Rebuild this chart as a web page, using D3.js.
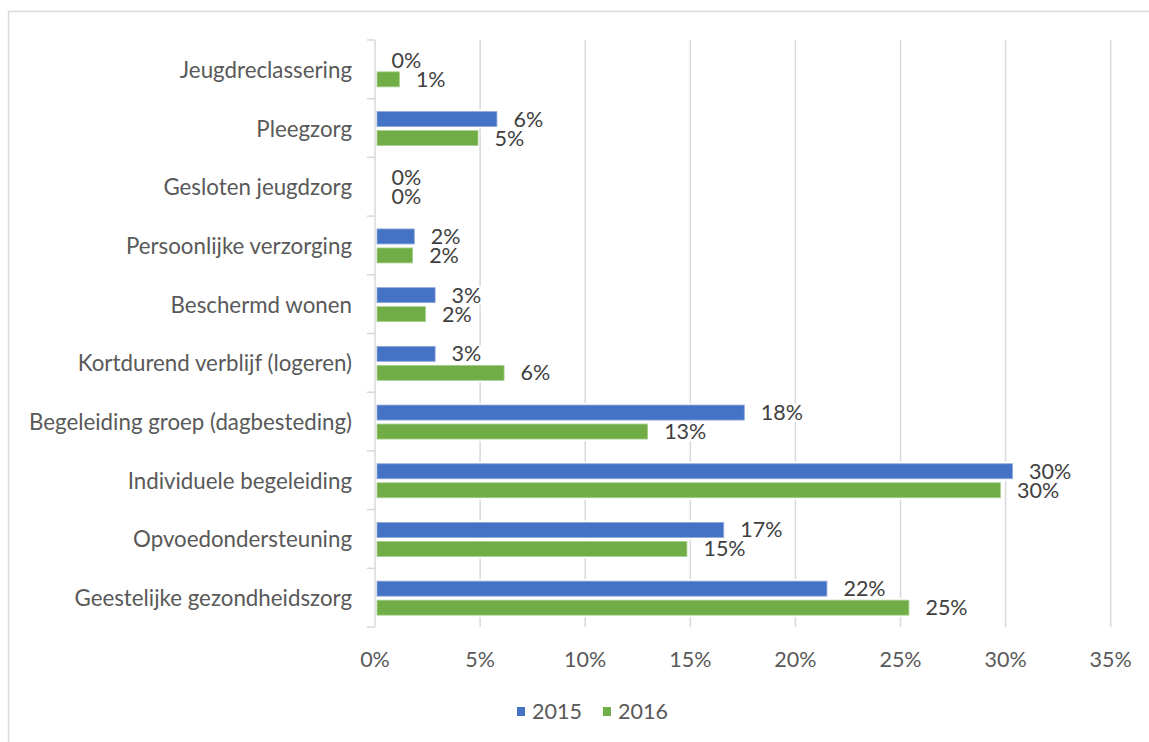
<!DOCTYPE html>
<html>
<head>
<meta charset="utf-8">
<script src="https://cdn.jsdelivr.net/npm/d3@7"></script>
<style>
  body { margin: 0; background: #fff; }
  svg { display: block; font-family: Lato, "Open Sans", sans-serif; }
</style>
</head>
<body>
<div id="plot-container"></div>
<script>
'use strict';
const categories = [
  "Jeugdreclassering",
  "Pleegzorg",
  "Gesloten jeugdzorg",
  "Persoonlijke verzorging",
  "Beschermd wonen",
  "Kortdurend verblijf (logeren)",
  "Begeleiding groep (dagbesteding)",
  "Individuele begeleiding",
  "Opvoedondersteuning",
  "Geestelijke gezondheidszorg"
];
const seriesNames = ["2015", "2016"];
const values2015 = [0, 0.058, 0, 0.0187, 0.0286, 0.0286, 0.1757, 0.3033, 0.1659, 0.215];
const values2016 = [0.0116, 0.049, 0, 0.0179, 0.024, 0.0614, 0.1297, 0.2976, 0.1484, 0.254];
const xTicks = [0, 0.05, 0.1, 0.15, 0.2, 0.25, 0.3, 0.35];
const colors = {"2015": "#4472C4", "2016": "#70AD47"};
const strokes = {"2015": "#8EA9DB", "2016": "#A9D08E"};

(function () {
  const width = 1149, height = 742;
  const svg = d3.select("#plot-container").append("svg")
    .attr("width", width).attr("height", height);

  // outer chart frame runs past the picture on the right and bottom
  svg.append("rect")
    .attr("x", 8.5).attr("y", 11.5).attr("width", 1300).attr("height", 900)
    .attr("fill", "none").attr("stroke", "#d9d9d9").attr("stroke-width", 1.5);

  const x = d3.scaleLinear().domain([0, 0.35]).range([375, 1110.7]);
  const y = d3.scaleBand().domain(categories).range([40, 627]).paddingInner(0).paddingOuter(0);
  const bw = y.bandwidth();
  const inner = d3.scaleBand().domain(seriesNames)
    .range([bw / 2 - 17 + 0.5, bw / 2 + 17 + 0.5]).paddingInner(4 / 19).paddingOuter(0);

  // gridlines
  svg.append("g").selectAll("line")
    .data(xTicks.slice(1))
    .join("line")
    .attr("x1", d => x(d)).attr("x2", d => x(d))
    .attr("y1", 40).attr("y2", 627)
    .attr("stroke", "#d9d9d9").attr("stroke-width", 1.5);

  // category axis line and tick marks
  svg.append("line")
    .attr("x1", x(0)).attr("x2", x(0)).attr("y1", 40).attr("y2", 627)
    .attr("stroke", "#d9d9d9").attr("stroke-width", 1.5);
  const boundaries = categories.map(c => y(c)).concat([627]);
  svg.append("g").selectAll("line")
    .data(boundaries)
    .join("line")
    .attr("x1", x(0) - 8).attr("x2", x(0))
    .attr("y1", d => d).attr("y2", d => d)
    .attr("stroke", "#d9d9d9").attr("stroke-width", 1.5);

  // category labels
  svg.append("g").selectAll("text")
    .data(categories)
    .join("text")
    .attr("x", 352)
    .attr("y", d => y(d) + bw / 2 + 8.5)
    .attr("text-anchor", "end")
    .attr("font-size", 22.3)
    .attr("fill", "#595959")
    .text(d => d);

  // x tick labels
  svg.append("g").selectAll("text")
    .data(xTicks)
    .join("text")
    .attr("x", d => x(d))
    .attr("y", 667)
    .attr("text-anchor", "middle")
    .attr("font-size", 21.5)
    .attr("fill", "#595959")
    .text(d => d3.format(".0%")(d));

  const rows = [];
  categories.forEach((c, i) => {
    rows.push({cat: c, series: "2015", value: values2015[i]});
    rows.push({cat: c, series: "2016", value: values2016[i]});
  });

  const bars = svg.append("g");
  const bh = inner.bandwidth();
  // white halo behind each bar breaks the gridlines like the original
  bars.selectAll("rect.halo")
    .data(rows.filter(r => r.value > 0))
    .join("rect")
    .attr("class", "halo")
    .attr("x", x(0) + 1)
    .attr("y", d => y(d.cat) + inner(d.series) - 2)
    .attr("width", d => x(d.value) - x(0))
    .attr("height", bh + 4)
    .attr("fill", "#fff");
  bars.selectAll("rect.bar")
    .data(rows.filter(r => r.value > 0))
    .join("rect")
    .attr("class", "bar")
    .attr("x", x(0) + 2)
    .attr("y", d => y(d.cat) + inner(d.series))
    .attr("width", d => x(d.value) - x(0) - 2)
    .attr("height", bh)
    .attr("fill", d => colors[d.series])
    .attr("stroke", d => strokes[d.series])
    .attr("stroke-width", 0.8);

  // data labels: white boxes first, then all texts on top
  const boxLayer = svg.append("g");
  const textLayer = svg.append("g");
  const labelTexts = textLayer.selectAll("text")
    .data(rows)
    .join("text")
    .attr("x", d => x(d.value) + 16.5)
    .attr("y", d => y(d.cat) + inner(d.series) + bh)
    .attr("font-size", 21.5)
    .attr("fill", "#404040")
    .text(d => d3.format(".0%")(d.value));
  const lens = labelTexts.nodes().map(n => n.getComputedTextLength());
  boxLayer.selectAll("rect")
    .data(rows)
    .join("rect")
    .attr("x", d => x(d.value) + 13)
    .attr("y", d => y(d.cat) + inner(d.series) - 1)
    .attr("width", (d, i) => lens[i] + 7)
    .attr("height", bh + 3)
    .attr("fill", "#fff");

  // legend
  const legend = svg.append("g").attr("transform", "translate(517,0)");
  const li = legend.selectAll("g")
    .data(seriesNames)
    .join("g")
    .attr("transform", (d, i) => `translate(${i * 86},0)`);
  li.append("rect")
    .attr("x", 0).attr("y", 707).attr("width", 8).attr("height", 9)
    .attr("fill", d => colors[d]);
  li.append("text")
    .attr("x", 15).attr("y", 719)
    .attr("font-size", 21.5)
    .attr("fill", "#595959")
    .text(d => d);
})();
</script>
</body>
</html>
